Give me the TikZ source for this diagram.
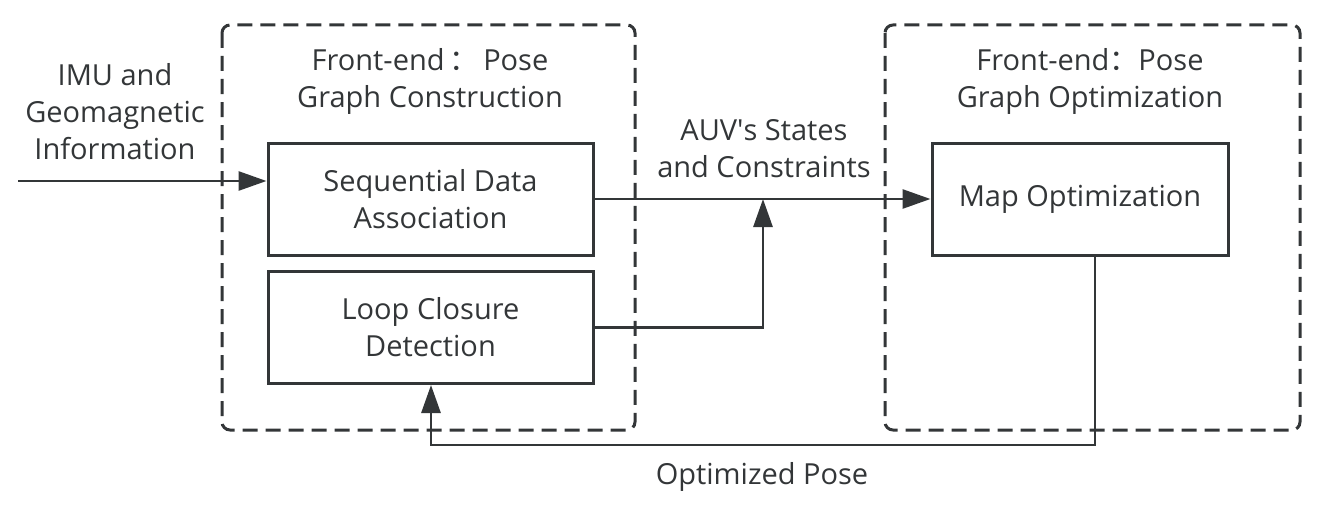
\documentclass[tikz,border=0pt]{standalone}
\usepackage{fontspec}
\setmainfont{Open Sans}
\newfontfamily\cjk{Noto Sans CJK SC}
\usetikzlibrary{arrows.meta}
\definecolor{ink}{HTML}{333638}
\tikzset{
  lbl/.style={font=\fontsize{29}{37}\selectfont, text=ink, align=center, inner sep=0pt},
  blk/.style={draw=ink, line width=3pt, minimum width=325pt, minimum height=112pt, inner sep=0pt, lbl},
  grp/.style={draw=ink, line width=3pt, dash pattern=on 15pt off 8pt, rounded corners=8pt},
  conn/.style={draw=ink, line width=2.8pt, -{Triangle[length=28pt,width=19pt]}},
}
\begin{document}
\begin{tikzpicture}[x=1pt,y=-1pt]
\useasboundingbox (0,0) rectangle (1320,511);
\draw[grp] (222,25) rectangle (635,430);
\draw[grp] (885,25) rectangle (1300,430);
\node[blk] (seq) at (430.5,199) {Sequential Data\\Association};
\node[blk] (loop) at (430.5,327.5) {Loop Closure\\Detection};
\node[blk, minimum width=296pt] (map) at (1080,199) {Map Optimization};
\node[lbl] (imu) at (115,112) {IMU and\\Geomagnetic\\Information};
\node[lbl] (t1) at (430,81) {Front-end\,{\cjk ：}\,Pose\\Graph Construction};
\node[lbl] (t2) at (1090,81) {Front-end{\cjk ：}Pose\\Graph Optimization};
\node[lbl] (auv) at (764,149) {AUV\textquotesingle s States\\and Constraints};
\node[lbl] (opt) at (762,477) {Optimized Pose};
\coordinate (in) at (18,181);
\coordinate (j) at (763,199);
\draw[conn] (in) -- (in -| seq.west);
\draw[conn] (seq.east) -- (map.west);
\draw[conn] (loop.east) -| (j);
\draw[conn] (map.south -| 1095,0) -- (1095,445) -| (loop.south -| 431,0);
\end{tikzpicture}
\end{document}
